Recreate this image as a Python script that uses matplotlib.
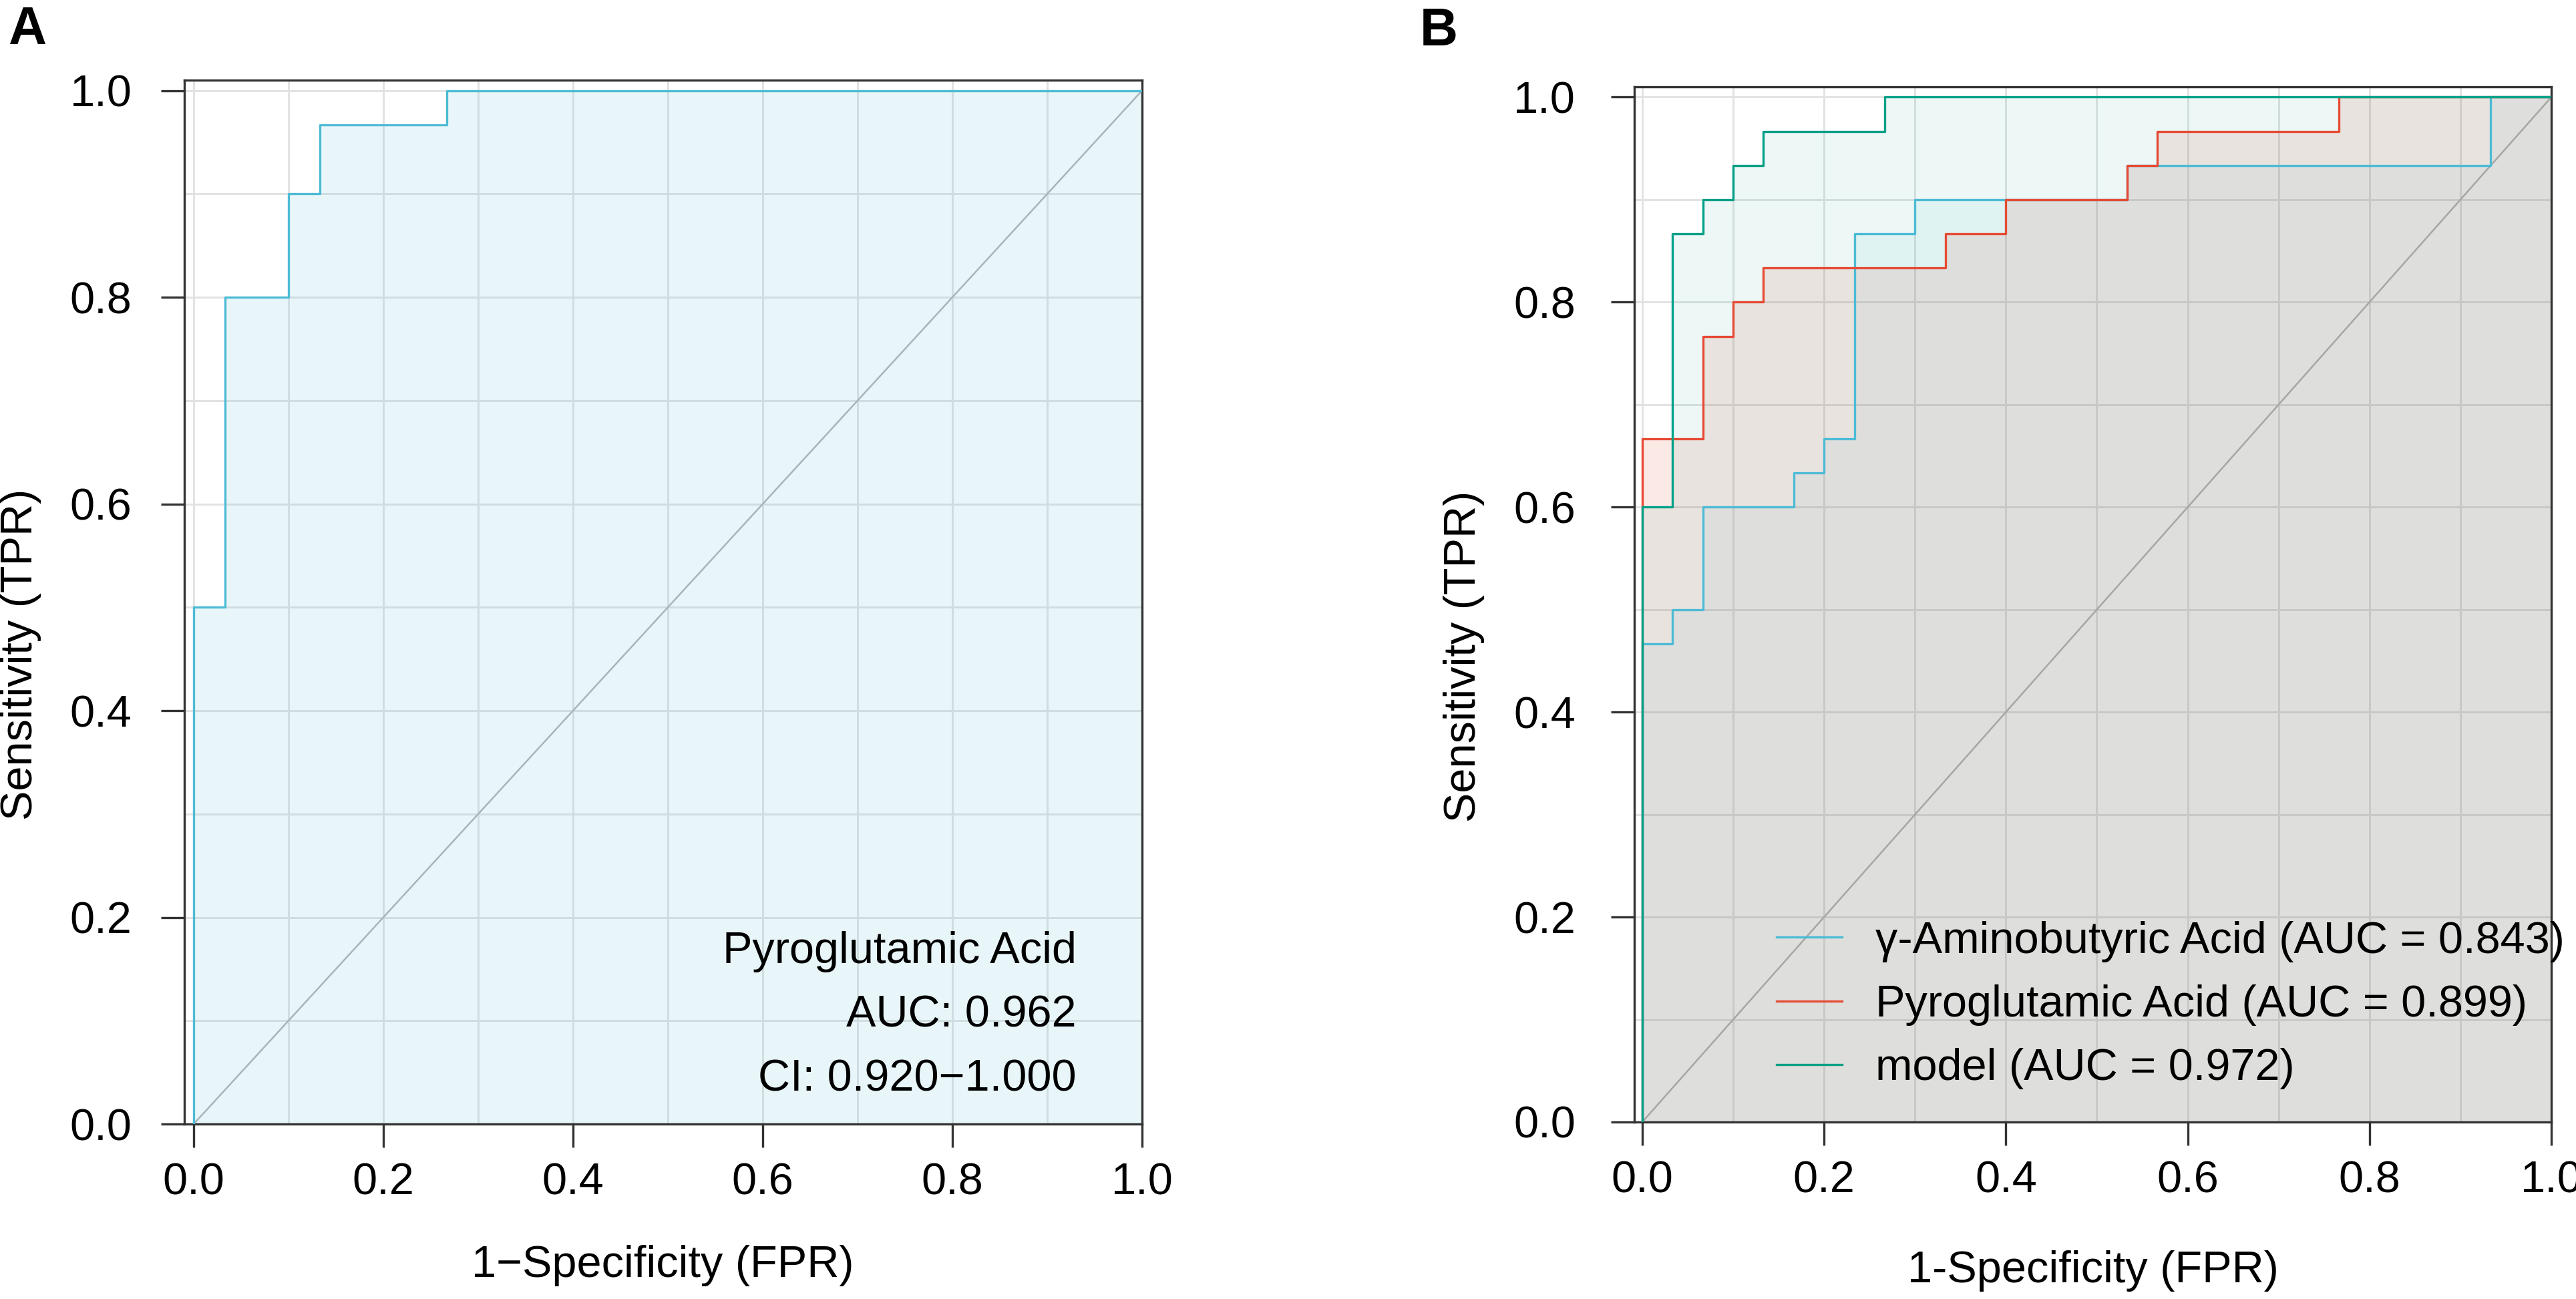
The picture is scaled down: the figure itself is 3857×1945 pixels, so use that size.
import numpy as np
import matplotlib
matplotlib.use('Agg')
import matplotlib.pyplot as plt

plt.rcParams['font.family'] = ['Liberation Sans', 'DejaVu Sans']

# ROC corner points as counts (30 cases, 30 controls)
N_NEG = 30
N_POS = 30

# Panel A: Pyroglutamic Acid
a_fp = [0, 0, 1, 1, 3, 3, 4, 4, 8, 8, 30]
a_tp = [0, 15, 15, 24, 24, 27, 27, 29, 29, 30, 30]
a_lines = ['Pyroglutamic Acid', 'AUC: 0.962', 'CI: 0.920\u22121.000']

# Panel B
gaba_fp = [0, 0, 1, 1, 2, 2, 5, 5, 6, 6, 7, 7, 9, 9, 16, 16, 28, 28, 30]
gaba_tp = [0, 14, 14, 15, 15, 18, 18, 19, 19, 20, 20, 26, 26, 27, 27, 28, 28, 30, 30]
pyro_fp = [0, 0, 2, 2, 3, 3, 4, 4, 10, 10, 12, 12, 16, 16, 17, 17, 23, 23, 30]
pyro_tp = [0, 20, 20, 23, 23, 24, 24, 25, 25, 26, 26, 27, 27, 28, 28, 29, 29, 30, 30]
model_fp = [0, 0, 1, 1, 2, 2, 3, 3, 4, 4, 8, 8, 30]
model_tp = [0, 18, 18, 26, 26, 27, 27, 28, 28, 29, 29, 30, 30]
b_names = ['\u03b3-Aminobutyric Acid', 'Pyroglutamic Acid', 'model']
b_auc = [0.843, 0.899, 0.972]
b_colors = ['#4DBBD5', '#E64B35', '#00A087']
b_alpha = [0.07, 0.12, 0.075]

ticks = [0, 0.2, 0.4, 0.6, 0.8, 1.0]
FS = 16

fig = plt.figure(figsize=(3857 / 300, 1945 / 300), dpi=300)
axA = fig.add_axes([275.5 / 3857, 1 - 1683 / 1945, 1434.5 / 3857, 1563 / 1945])
axB = fig.add_axes([2447 / 3857, 1 - 1680 / 1945, 1373 / 3857, 1550 / 1945])


def style(ax, xlabel, ypad, xlim_lo, xlab_y, ylab_x):
    ax.set_xlim(xlim_lo, 1.0)
    ax.set_ylim(0, 1.0101)
    ax.set_xticks(ticks)
    ax.set_yticks(ticks)
    ax.set_xticklabels(['%.1f' % t for t in ticks])
    ax.set_yticklabels(['%.1f' % t for t in ticks])
    ax.set_xticks(np.arange(0, 1.01, 0.1), minor=True)
    ax.set_yticks(np.arange(0, 1.01, 0.1), minor=True)
    ax.grid(True, which='both', color='#E2E2E2', linewidth=0.7, zorder=0)
    ax.set_axisbelow(True)
    ax.tick_params(which='minor', length=0)
    ax.tick_params(axis='both', which='major', direction='out', length=8.4,
                   width=0.8, color='#333333', labelsize=FS)
    ax.tick_params(axis='y', pad=ypad)
    ax.tick_params(axis='x', pad=5.5)
    for s in ax.spines.values():
        s.set_color('#333333')
        s.set_linewidth(0.8)
    ax.set_xlabel(xlabel, fontsize=FS)
    ax.set_ylabel('Sensitivity (TPR)', fontsize=FS)
    ax.xaxis.set_label_coords(0.5, xlab_y)
    ax.yaxis.set_label_coords(ylab_x, 0.45)
    ax.plot([0, 1], [0, 1], color='#B5B5B5', linewidth=0.6, zorder=1)


style(axA, '1\u2212Specificity (FPR)', 10.3, -0.0102, -0.116, -0.149)
style(axB, '1-Specificity (FPR)', 12.7, -0.0088, -0.124, -0.163)

# panel A curve
fpr = np.array(a_fp) / N_NEG
tpr = np.array(a_tp) / N_POS
axA.fill_between(fpr, tpr, 0, color='#4DBBD5', alpha=0.12, linewidth=0, zorder=2)
axA.plot(fpr, tpr, color='#4DBBD5', linewidth=0.8, zorder=3)
for txt, yy in zip(a_lines, [0.167, 0.105, 0.043]):
    axA.text(0.931, yy, txt, ha='right', va='center', fontsize=FS)

# panel B curves
curves = [(gaba_fp, gaba_tp), (pyro_fp, pyro_tp), (model_fp, model_tp)]
for (fp, tp), c, al in zip(curves, b_colors, b_alpha):
    axB.fill_between(np.array(fp) / N_NEG, np.array(tp) / N_POS, 0,
                     color=c, alpha=al, linewidth=0, zorder=2)
handles = []
for (fp, tp), c, name, auc in zip(curves, b_colors, b_names, b_auc):
    h, = axB.plot(np.array(fp) / N_NEG, np.array(tp) / N_POS, color=c,
                  linewidth=0.8, zorder=3, label='%s (AUC = %.3f)' % (name, auc))
    handles.append(h)
axB.legend(handles=handles, loc='center left', bbox_to_anchor=(0.155, 0.113),
           frameon=False, fontsize=FS, handlelength=1.48, handletextpad=0.75,
           labelspacing=0.5, borderpad=0, borderaxespad=0)

fig.text(12 / 3857, 1 - 8 / 1945, 'A', ha='left', va='top', fontsize=19, fontweight='bold')
fig.text(2126 / 3857, 1 - 10 / 1945, 'B', ha='left', va='top', fontsize=19, fontweight='bold')

fig.savefig('out.png', dpi=300)
